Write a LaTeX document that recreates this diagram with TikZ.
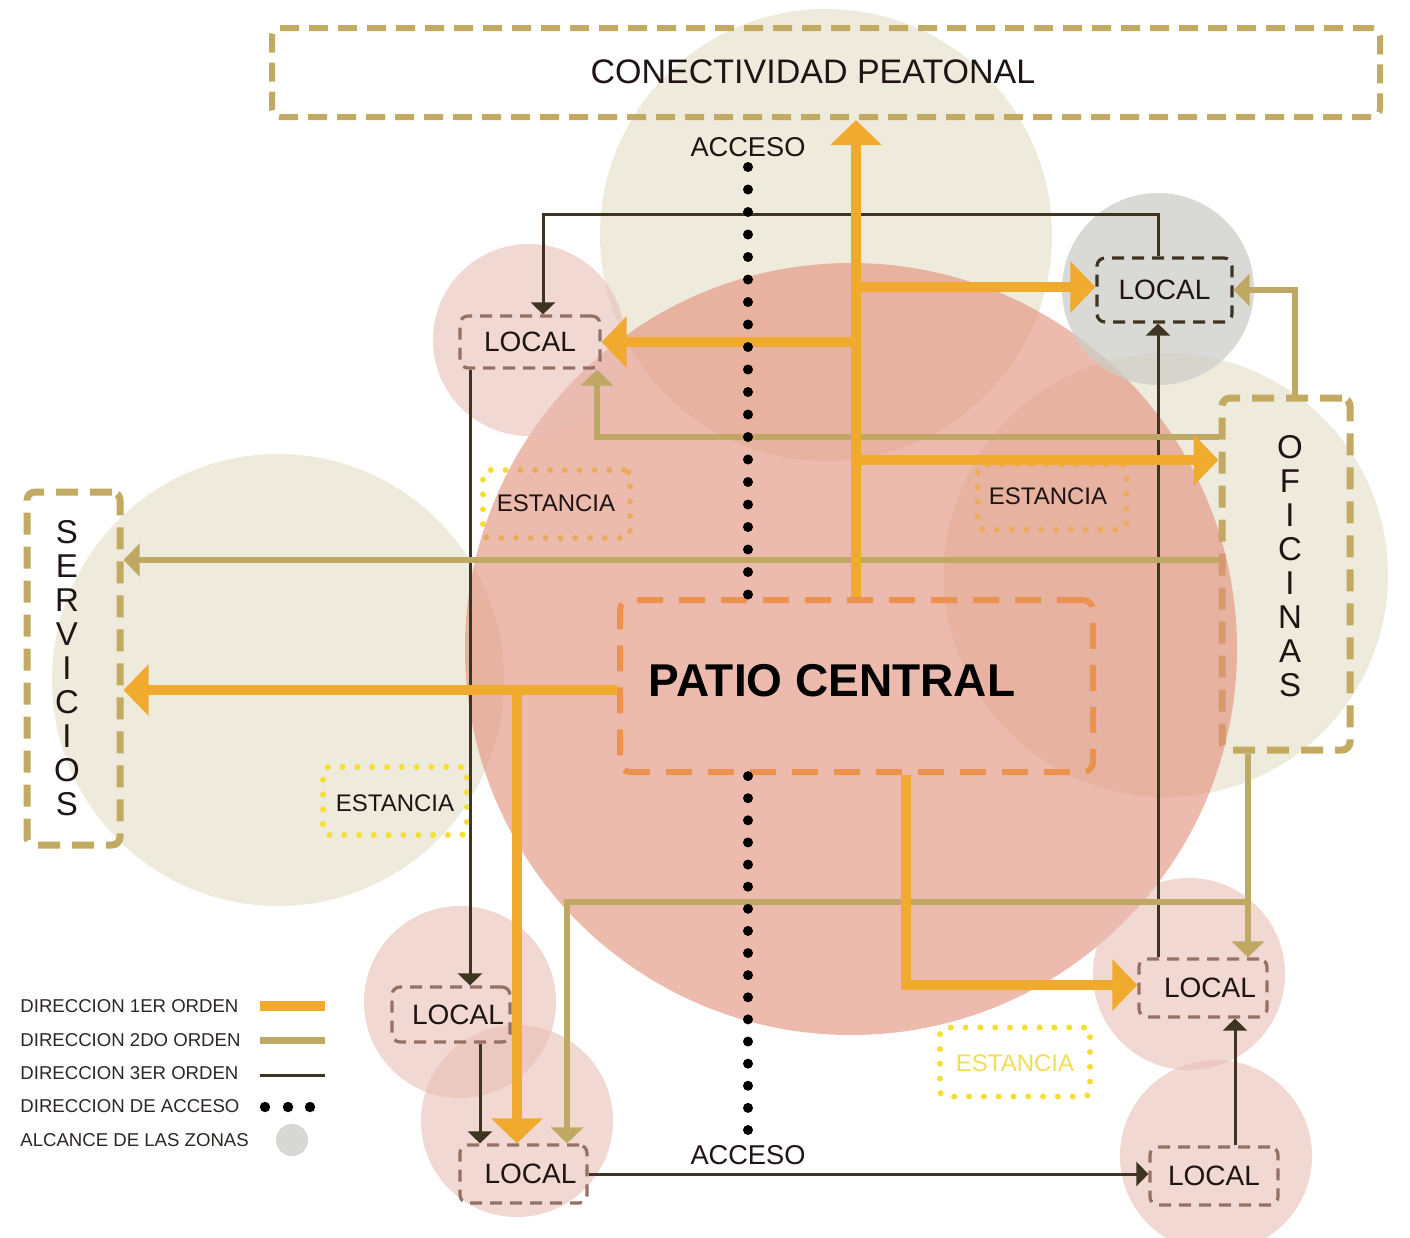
\documentclass[tikz,border=0pt]{standalone}
\usepackage{fontspec}
\setmainfont{Liberation Sans}
\usetikzlibrary{arrows.meta,calc}
\definecolor{beigeC}{RGB}{236,230,212}
\definecolor{pinkC}{RGB}{226,140,120}
\definecolor{lpinkC}{RGB}{232,190,180}
\definecolor{greyC}{RGB}{205,205,200}
\definecolor{ordA}{RGB}{240,170,45}
\definecolor{ordB}{RGB}{190,168,100}
\definecolor{ordC}{RGB}{62,52,34}
\definecolor{boxtan}{RGB}{194,170,98}
\definecolor{patioC}{RGB}{234,146,78}
\definecolor{localC}{RGB}{150,112,100}
\definecolor{estC}{RGB}{246,222,50}
\definecolor{estT}{RGB}{240,222,90}
\definecolor{txtC}{RGB}{30,20,20}
\definecolor{legC}{RGB}{45,38,38}
\begin{document}
\begin{tikzpicture}[x=0.5pt,y=-0.5pt,
  zone/.style={fill=beigeC,fill opacity=0.8},
  patiozone/.style={fill=pinkC,fill opacity=0.6},
  lzone/.style={fill=lpinkC,fill opacity=0.6},
  gzone/.style={fill=greyC,fill opacity=0.75},
  bigbox/.style={draw=boxtan,line width=3pt,dash pattern=on 9.5pt off 5pt,rounded corners=4pt,inner sep=0pt},
  sidebox/.style={draw=boxtan,line width=3.5pt,dash pattern=on 11pt off 6pt,rounded corners=4pt,inner sep=0pt},
  sidetext/.style={align=center,font=\fontsize{16.5}{17}\selectfont,text=txtC,inner sep=0pt},
  patiobox/.style={draw=patioC,line width=3pt,dash pattern=on 13pt off 8pt,rounded corners=5pt,inner sep=0pt},
  localbox/.style={draw=localC,line width=1.6pt,dash pattern=on 6pt off 4pt,rounded corners=4pt,inner sep=0pt,
     font=\fontsize{14}{16}\selectfont,text=txtC},
  estbox/.style={draw=estC,line width=3pt,dash pattern=on 0pt off 7.4pt,line cap=round,rounded corners=3pt,inner sep=0pt},
  esttext/.style={font=\fontsize{12}{14}\selectfont,text=txtC},
  first/.style={draw=ordA,line width=5pt,-{Triangle[length=12.5pt,width=25pt]}},
  second/.style={draw=ordB,line width=3pt,-{Triangle[length=8pt,width=16pt]}},
  third/.style={draw=ordC,line width=1.5pt,-{Triangle[length=6pt,width=12pt]}},
  access/.style={draw=black,line width=5pt,line cap=round},
  legtext/.style={anchor=west,font=\fontsize{9.3}{11}\selectfont,text=legC,inner sep=0pt}
]
\useasboundingbox (0,0) rectangle (1410,1238);
\fill[white] (0,0) rectangle (1410,1238);

% beige zones
\fill[zone] (826,235) circle[radius=113pt];
\fill[zone] (278,680) circle[radius=113pt];
\fill[zone] (1166,575) circle[radius=111pt];

% estancia dotted boxes (under the zones)
\node[estbox,minimum width=73.5pt,minimum height=34pt] (e1b) at (556.5,504) {};
\node[estbox,minimum width=74.5pt,minimum height=32.5pt] (e2b) at (1052,497) {};
\node[estbox,minimum width=72pt,minimum height=34pt] (e3b) at (395,801) {};
\node[estbox,minimum width=75pt,minimum height=34.5pt] (e4b) at (1015,1062) {};

% oficinas box
\node[sidebox,minimum width=64pt,minimum height=176pt] (of) at (1286,574) {};

% pink patio zone
\fill[patiozone] (851,649) circle[radius=193pt];
% grey zone
\fill[gzone] (1158,289) circle[radius=48pt];
% small local zones
\fill[lzone] (529,340) circle[radius=48pt];
\fill[lzone] (460,1002) circle[radius=48pt];
\fill[lzone] (517,1121) circle[radius=48pt];
\fill[lzone] (1189,974) circle[radius=48pt];
\fill[lzone] (1216,1156) circle[radius=48pt];

% boxes
\node[bigbox,minimum width=554pt,minimum height=44.5pt] (cpb) at (826,72.5) {};
\node[font=\fontsize{17}{20}\selectfont,text=txtC] (cpt) at (813,72) {CONECTIVIDAD PEATONAL};
\node[sidebox,minimum width=46.5pt,minimum height=176.5pt] (sv) at (73.5,668.5) {};
\node[sidetext] (svt) at (67,668) {S\\E\\R\\V\\I\\C\\I\\O\\S};
\node[sidetext] (oft) at (1290,566) {O\\F\\I\\C\\I\\N\\A\\S};
\node[patiobox,minimum width=236.5pt,minimum height=86pt] (pc) at (856.5,686) {};
\node[font=\fontsize{23}{26}\selectfont\bfseries,text=black] (pct) at (832,681) {PATIO CENTRAL};

\node[localbox,minimum width=70pt,minimum height=26pt] (ltl) at (530,342) {LOCAL};
\node[localbox,draw=ordC,minimum width=67.5pt,minimum height=32pt] (ltr) at (1164.5,290) {LOCAL};
\node[localbox,minimum width=59pt,minimum height=27.5pt] (lml) at (451,1014.5) {\hspace{7pt}LOCAL};
\node[localbox,minimum width=63.5pt,minimum height=29pt] (lb) at (523.5,1174) {\hspace{7pt}LOCAL};
\node[localbox,minimum width=64pt,minimum height=29pt] (lr) at (1203,988) {\hspace{7pt}LOCAL};
\node[localbox,minimum width=64pt,minimum height=29pt] (lbr) at (1214,1176) {LOCAL};

% estancia labels
\node[esttext] (e1) at (556,503) {ESTANCIA};
\node[esttext] (e2) at (1048,496) {ESTANCIA};
\node[esttext] (e3) at (395,803) {ESTANCIA};
\node[esttext,text=estT] (e4) at (1015,1063) {ESTANCIA};

% acceso labels
\node[font=\fontsize{13.6}{16}\selectfont,text=txtC,inner sep=1pt] (acc1) at (748,147) {ACCESO};
\node[font=\fontsize{13.6}{16}\selectfont,text=txtC,inner sep=1pt] (acc2) at (748,1155) {ACCESO};

% junction coordinates
\coordinate (jA) at (856,342);
\coordinate (jB) at (856,287);
\coordinate (jC) at (856,460);
\coordinate (jD) at (517,690);
\coordinate (jE) at (906,985);
\coordinate (jT1) at (1295,290);
\coordinate (jT2) at (597,437);
\coordinate (jT3) at (0,560);
\coordinate (jT4) at (1248,902);
\coordinate (jT5) at (567,902);
\coordinate (jD1) at (1158,214);
\coordinate (jD2) at (543,214);
\coordinate (jD3) at (470,0);
\coordinate (jD4) at (480,0);
\coordinate (jD6) at (1235,0);

% third order
\draw[third] (ltr.north -| jD1) -- (jD1) -- (jD2) -- (ltl.north -| jD2);
\draw[third] (lr.north -| jD1) -- (ltr.south -| jD1);
\draw[third] (ltl.south -| jD3) -- (lml.north -| jD3);
\draw[third] (lml.south -| jD4) -- (lb.north -| jD4);
\draw[third] (lb.east) -- (lbr.west |- lb.east);
\draw[third] (lbr.north -| jD6) -- (lr.south -| jD6);

% second order
\draw[second] (of.north -| jT1) -- (jT1) -- (ltr.east |- jT1);
\draw[second] (of.west |- jT2) -- (jT2) -- (ltl.south -| jT2);
\draw[second] (of.west |- jT3) -- (sv.east |- jT3);
\draw[second] (of.south -| jT4) -- (lr.north -| jT4);
\draw[second] (jT4) -- (jT5) -- (lb.north -| jT5);

% first order
\draw[first] (pc.north -| jA) -- (cpb.south -| jA);
\draw[first] (jA) -- (ltl.east |- jA);
\draw[first] (jB) -- (ltr.west |- jB);
\draw[first] (jC) -- (of.west |- jC);
\draw[first] (pc.west |- jD) -- (sv.east |- jD);
\draw[first] (jD) -- (lb.north -| jD);
\draw[first] (pc.south -| jE) -- (jE) -- (lr.west |- jE);

% access
\draw[access,dash pattern=on 0pt off 11.25pt] ([yshift=-10pt]acc1.center) -- (pc.north -| acc1);
\draw[access,dash pattern=on 0pt off 11.06pt] ([yshift=12.5pt]acc2.center) -- (pc.south -| acc2);

% legend
\node[legtext] (lg1) at (20,1006) {DIRECCION 1ER ORDEN};
\node[legtext] (lg2) at (20,1040) {DIRECCION 2DO ORDEN};
\node[legtext] (lg3) at (20,1073) {DIRECCION 3ER ORDEN};
\node[legtext] (lg4) at (20,1106) {DIRECCION DE ACCESO};
\node[legtext] (lg5) at (20,1140) {ALCANCE DE LAS ZONAS};
\draw[ordA,line width=5pt] (260,1006) -- (325,1006);
\draw[ordB,line width=3.5pt] (260,1040) -- (325,1040);
\draw[ordC,line width=1.5pt] (260,1075) -- (325,1075);
\fill[black] (265,1107) circle[radius=2.6pt] (288,1107) circle[radius=2.6pt] (310,1107) circle[radius=2.6pt];
\fill[greyC!80!white] (292,1140) circle[radius=8pt];
\end{tikzpicture}
\end{document}
